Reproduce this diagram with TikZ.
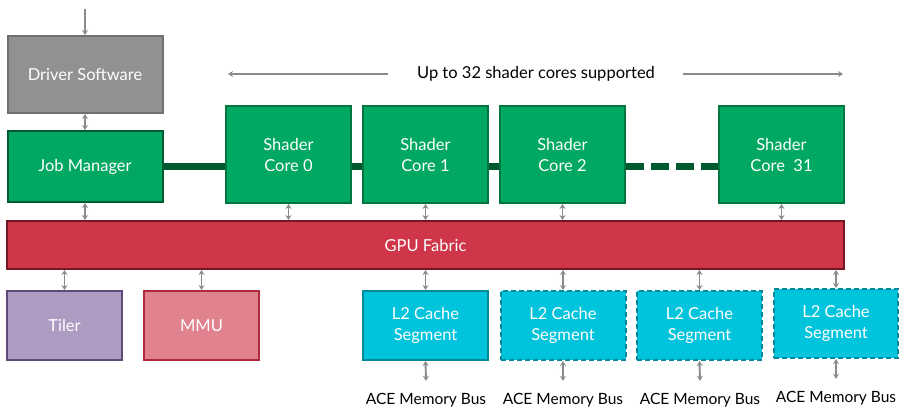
\documentclass[tikz,border=0pt]{standalone}
\usepackage{fontspec}
\setmainfont{Lato}
\usetikzlibrary{arrows.meta}
\definecolor{drvfill}{HTML}{8F9193}
\definecolor{drvline}{HTML}{6E7072}
\definecolor{grfill}{HTML}{00A862}
\definecolor{grline}{HTML}{00753F}
\definecolor{jmline}{HTML}{005C30}
\definecolor{barcol}{HTML}{005A30}
\definecolor{fabfill}{HTML}{CF364A}
\definecolor{fabline}{HTML}{741826}
\definecolor{tilfill}{HTML}{AE9BC2}
\definecolor{tilline}{HTML}{5E4B7A}
\definecolor{mmufill}{HTML}{E1838E}
\definecolor{mmuline}{HTML}{B02B3A}
\definecolor{l2fill}{HTML}{00C3DC}
\definecolor{l2line}{HTML}{00899A}
\definecolor{arrcol}{HTML}{898B8D}
\begin{document}
\begin{tikzpicture}[x=1pt,y=-1pt,
  box/.style={rectangle, line width=2pt, text=white, align=center, inner sep=0pt,
    font=\fontsize{16.5}{21}\selectfont},
  drvbox/.style={box, fill=drvfill, draw=drvline, minimum width=155pt, minimum height=77pt},
  jobbox/.style={box, fill=grfill, draw=jmline, minimum width=155pt, minimum height=71pt},
  corebox/.style={box, fill=grfill, draw=grline, minimum width=125pt, minimum height=97pt},
  fabbox/.style={box, fill=fabfill, draw=fabline, minimum width=837pt, minimum height=48pt},
  tilbox/.style={box, fill=tilfill, draw=tilline, minimum width=115pt, minimum height=69pt},
  mmubox/.style={box, fill=mmufill, draw=mmuline, minimum width=115pt, minimum height=69pt},
  l2box/.style={box, fill=l2fill, draw=l2line, minimum width=125pt, minimum height=69pt},
  l2dash/.style={l2box, dash pattern=on 5pt off 3pt},
  bi/.style={draw=arrcol, line width=1.9pt, {Stealth[length=5pt,width=6pt]}-{Stealth[length=5pt,width=6pt]}},
  uni/.style={draw=arrcol, line width=1.9pt, -{Stealth[length=5pt,width=6pt]}},
  lbl/.style={text=black, inner sep=2pt, font=\fontsize{16.5}{20}\selectfont},
  acelbl/.style={lbl, font=\fontsize{15.5}{20}\selectfont},
  bar/.style={draw=barcol, line width=6.5pt}
]
\useasboundingbox (0,0) rectangle (910,416);

% nodes
\node[drvbox] (drv) at (85,74.5) {Driver Software};
\node[jobbox] (job) at (85,166.5) {Job Manager};
\node[corebox] (c0) at (288.5,154.5) {\raisebox{-1.5pt}{Shader}\\\raisebox{-1.5pt}{Core 0}};
\node[corebox] (c1) at (425.5,154.5) {\raisebox{-1.5pt}{Shader}\\\raisebox{-1.5pt}{Core 1}};
\node[corebox] (c2) at (562.5,154.5) {\raisebox{-1.5pt}{Shader}\\\raisebox{-1.5pt}{Core 2}};
\node[corebox] (c31) at (781.5,154.5) {\raisebox{-1.5pt}{Shader}\\\raisebox{-1.5pt}{Core~~31}};
\node[fabbox] (fab) at (425.5,245) {GPU Fabric};
\node[tilbox] (til) at (64.5,325.5) {Tiler};
\node[mmubox] (mmu) at (201.5,325.5) {MMU};
\node[l2box] (l2a) at (425.5,325.5) {L2 Cache\\Segment};
\node[l2dash] (l2b) at (563,325.5) {L2 Cache\\Segment};
\node[l2dash] (l2c) at (699.5,325.5) {L2 Cache\\Segment};
\node[l2dash, minimum width=124pt] (l2d) at (836,323.5) {L2 Cache\\Segment};

\node[acelbl] (ace1) at (426,400) {ACE Memory Bus};
\node[acelbl] (ace2) at (563,400) {ACE Memory Bus};
\node[acelbl] (ace3) at (700,400) {ACE Memory Bus};
\node[acelbl] (ace4) at (836,398) {ACE Memory Bus};

\node[lbl] (up) at (536,73.5) {Up to 32 shader cores supported};
\coordinate (upL0) at (388,74);
\coordinate (upL1) at (228,74);
\coordinate (upR0) at (683,74);
\coordinate (upR1) at (843,74);
\coordinate (topin) at (85,9);

% interconnect bar
\draw[bar] (job.east) -- (c0.west |- job.east);
\draw[bar] (c0.east |- job.east) -- (c1.west |- job.east);
\draw[bar] (c1.east |- job.east) -- (c2.west |- job.east);
\draw[bar, dash pattern=on 18pt off 7pt] (c2.east |- job.east) -- (c31.west |- job.east);

% arrows
\draw[uni] (topin) -- (drv.north);
\draw[bi] (drv.south) -- (job.north);
\draw[bi] (job.south) -- (job.south |- fab.north);
\foreach \c in {c0,c1,c2,c31} \draw[bi] (\c.south) -- (\c.south |- fab.north);
\foreach \b in {til,mmu,l2a,l2b,l2c,l2d} \draw[bi] (\b.north) -- (\b.north |- fab.south);
\foreach \b/\a in {l2a/ace1,l2b/ace2,l2c/ace3,l2d/ace4} \draw[bi] (\b.south) -- ([yshift=10pt]\a.north);
\draw[uni] (upL0) -- (upL1);
\draw[uni] (upR0) -- (upR1);
\end{tikzpicture}
\end{document}
